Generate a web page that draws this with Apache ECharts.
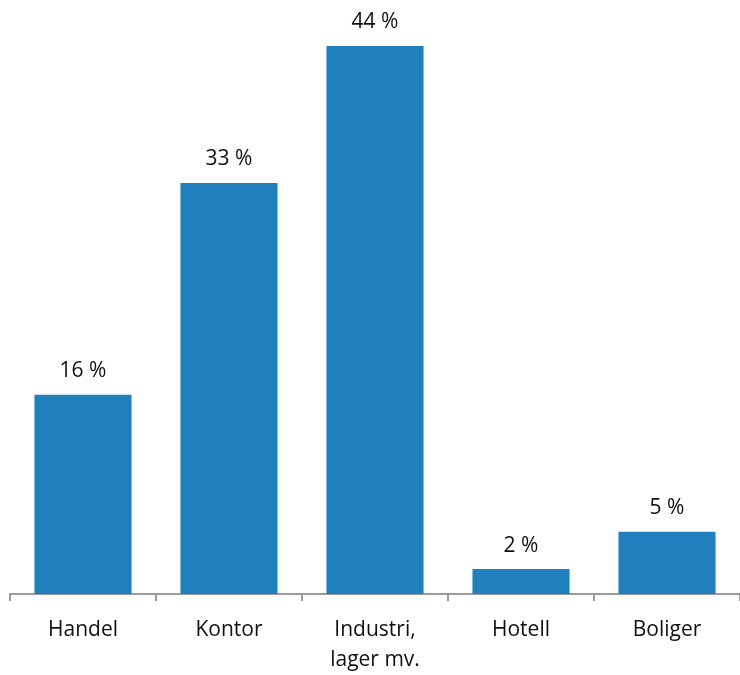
<!DOCTYPE html>
<html><head><meta charset="utf-8">
<script src="https://cdn.jsdelivr.net/npm/echarts@6/dist/echarts.min.js"></script>
<style>html,body{margin:0;padding:0;background:#fff}#c{width:740px;height:675px}</style>
</head><body><div id="c"></div>
<script>
const categories = ["Handel", "Kontor", "Industri,\nlager mv.", "Hotell", "Boliger"];
const values = [16, 33, 44, 2, 5];
const chart = echarts.init(document.getElementById('c'));
const font = '"Open Sans", "Noto Sans", sans-serif';
chart.setOption({
  animation: false,
  grid: {left: 10, right: 0, top: 46, bottom: 78, containLabel: false},
  xAxis: {
    type: 'category', data: categories,
    axisLine: {lineStyle: {color: '#9a9a9a', width: 2}},
    axisTick: {show: true, length: 7, lineStyle: {color: '#9a9a9a', width: 2}},
    axisLabel: {color: '#111', fontSize: 21, fontFamily: font, margin: 21, lineHeight: 30, interval: 0}
  },
  yAxis: {type: 'value', min: 0, max: 44, show: false, splitLine: {show: false}},
  series: [{
    type: 'bar', data: values, barCategoryGap: '33.5%',
    itemStyle: {color: '#1f80bb'},
    label: {show: true, position: 'top', distance: 13, formatter: '{c} %', color: '#111', fontSize: 21, fontFamily: font}
  }]
});
</script></body></html>
